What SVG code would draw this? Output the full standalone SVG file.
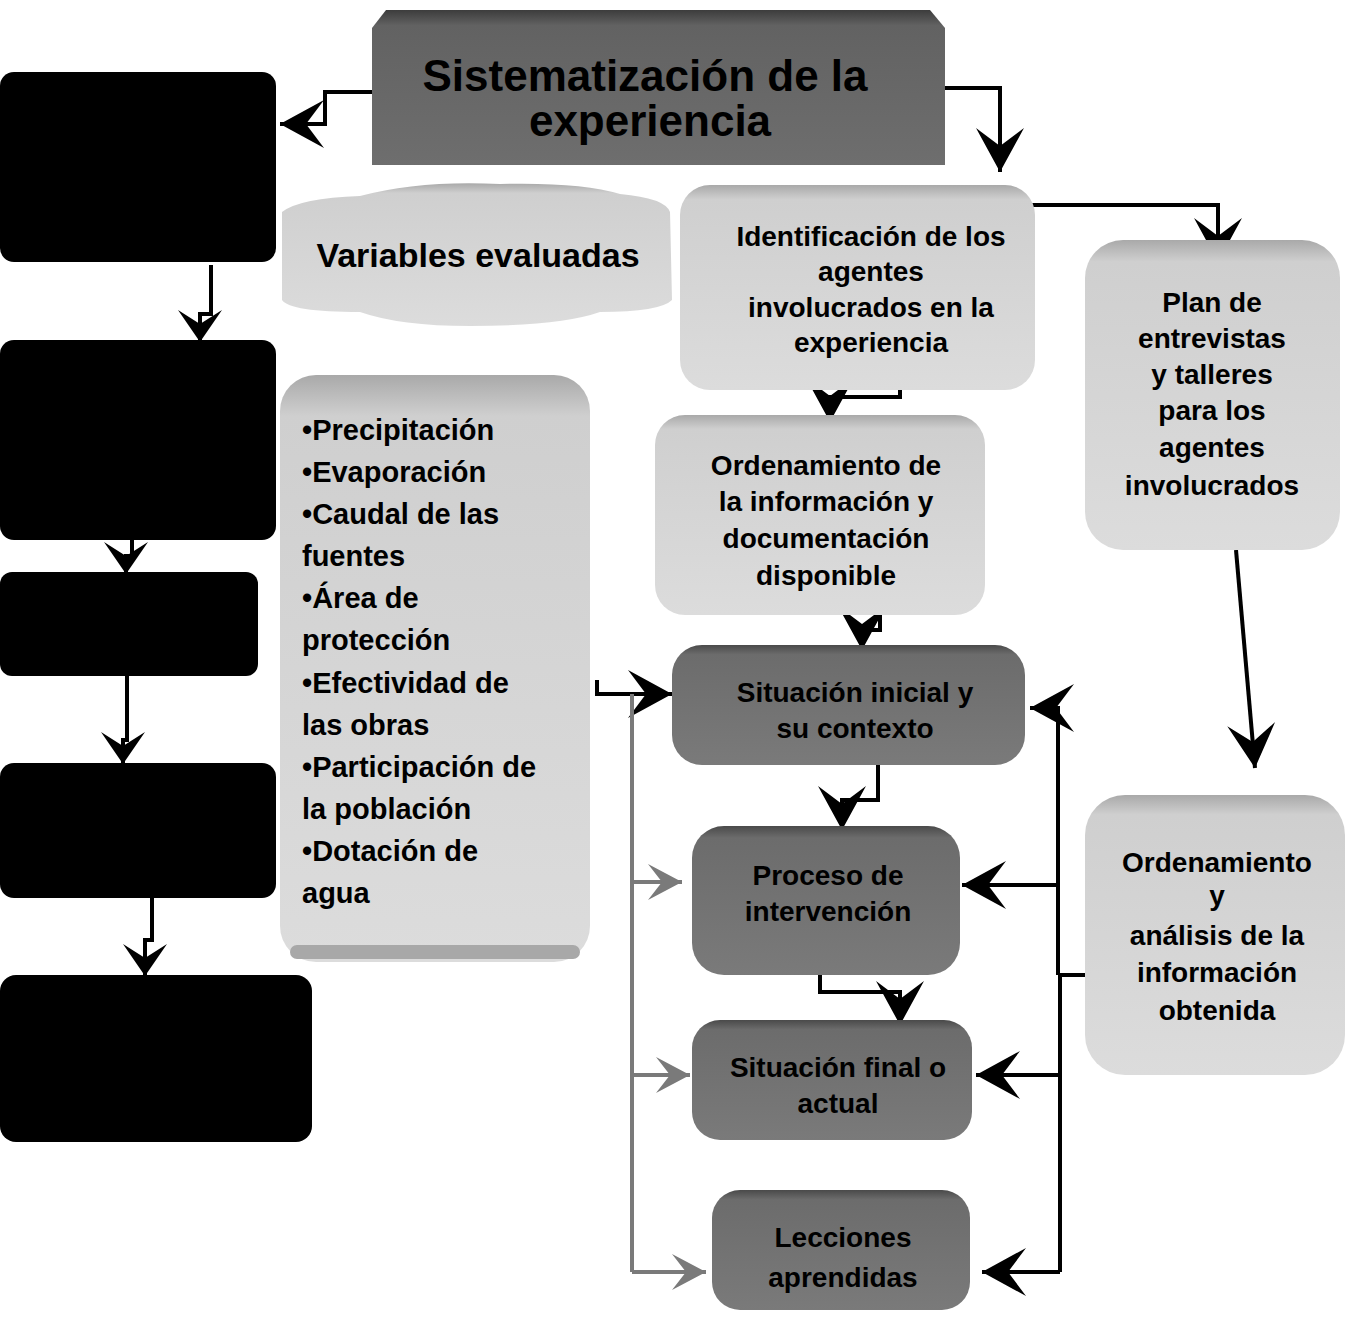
<svg xmlns="http://www.w3.org/2000/svg" width="1353" height="1317" viewBox="0 0 1353 1317">
<style>
  .t{font-family:"Liberation Sans",Arial,sans-serif;font-weight:bold;fill:#000;text-anchor:middle}
  .tl{font-family:"Liberation Sans",Arial,sans-serif;font-weight:bold;fill:#000;text-anchor:start;font-size:29px}
  .light{fill:url(#gLight)}
  .mid{fill:url(#gMid)}
  .blk{fill:#000}
  .c{fill:none;stroke:#000;stroke-width:4}
  .cg{fill:none;stroke:#7a7a7a;stroke-width:4}
</style>
<defs>
  <linearGradient id="gLight" x1="0" y1="0" x2="0" y2="1">
    <stop offset="0" stop-color="#a9a9a9"/>
    <stop offset="0.07" stop-color="#cfcfcf"/>
    <stop offset="1" stop-color="#dcdcdc"/>
  </linearGradient>
  <linearGradient id="gMid" x1="0" y1="0" x2="0" y2="1">
    <stop offset="0" stop-color="#4a4a4a"/>
    <stop offset="0.08" stop-color="#6c6c6c"/>
    <stop offset="1" stop-color="#7a7a7a"/>
  </linearGradient>
  <linearGradient id="gTitle" x1="0" y1="0" x2="0" y2="1">
    <stop offset="0" stop-color="#3c3c3c"/>
    <stop offset="0.1" stop-color="#626262"/>
    <stop offset="1" stop-color="#6e6e6e"/>
  </linearGradient>
  <marker id="ah" viewBox="-46 -26 48 52" refX="0" refY="0" markerWidth="48" markerHeight="52" markerUnits="userSpaceOnUse" orient="auto">
    <path d="M0,0 L-44,-24 L-26,0 L-44,24 Z" fill="#000"/>
  </marker>
  <marker id="ahs" viewBox="-36 -24 38 48" refX="0" refY="0" markerWidth="38" markerHeight="48" markerUnits="userSpaceOnUse" orient="auto">
    <path d="M0,0 L-32,-22 L-18,0 L-32,22 Z" fill="#000"/>
  </marker>
  <marker id="ahg" viewBox="-36 -22 38 44" refX="0" refY="0" markerWidth="38" markerHeight="44" markerUnits="userSpaceOnUse" orient="auto">
    <path d="M0,0 L-34,-18 L-20,0 L-34,18 Z" fill="#7a7a7a"/>
  </marker>
</defs>

<g id="connectors">
  <path class="c" d="M372,92 H325 V124 H280" marker-end="url(#ah)"/>
  <path class="c" d="M211,265 V314 H200 V342" marker-end="url(#ahs)"/>
  <path class="c" d="M132,540 V556 H126 V574" marker-end="url(#ahs)"/>
  <path class="c" d="M127,676 V740 H123 V764" marker-end="url(#ahs)"/>
  <path class="c" d="M152,898 V940 H145 V976" marker-end="url(#ahs)"/>
  <path class="c" d="M945,88 H1000 V172" marker-end="url(#ah)"/>
  <path class="c" d="M1028,205 H1218 V262" marker-end="url(#ah)"/>
  <path class="c" d="M1236,550 L1255,768" marker-end="url(#ah)"/>
  <path class="c" d="M900,370 V397 H830 V422" marker-end="url(#ah)"/>
  <path class="c" d="M880,600 V630 H862 V650" marker-end="url(#ah)"/>
  <path class="c" d="M878,765 V800 H842 V830" marker-end="url(#ah)"/>
  <path class="c" d="M820,955 V992 H900 V1025" marker-end="url(#ah)"/>
  <path class="c" d="M597,680 V694 H672" marker-end="url(#ah)"/>
  <path class="cg" d="M632,694 V1272"/>
  <path class="cg" d="M632,882 H682" marker-end="url(#ahg)"/>
  <path class="cg" d="M632,1075 H690" marker-end="url(#ahg)"/>
  <path class="cg" d="M632,1272 H706" marker-end="url(#ahg)"/>
  <path class="c" d="M1105,975 H1058"/>
  <path class="c" d="M1058,706 V975"/>
  <path class="c" d="M1060,975 V1272"/>
  <path class="c" d="M1058,708 H1030" marker-end="url(#ah)"/>
  <path class="c" d="M1058,885 H962" marker-end="url(#ah)"/>
  <path class="c" d="M1060,1075 H976" marker-end="url(#ah)"/>
  <path class="c" d="M1060,1272 H982" marker-end="url(#ah)"/>
</g>

<g id="title">
  <path d="M386,10 H930 L945,28 V165 H372 V28 Z" fill="url(#gTitle)"/>
  <text class="t" x="645" y="91" font-size="44">Sistematización de la</text>
  <text class="t" x="650" y="136" font-size="44">experiencia</text>
</g>

<g id="box1"><rect class="blk" x="0" y="72" width="276" height="190" rx="14"/></g>
<g id="box2"><rect class="blk" x="0" y="340" width="276" height="200" rx="14"/></g>
<g id="box3"><rect class="blk" x="0" y="572" width="258" height="104" rx="12"/></g>
<g id="box4"><rect class="blk" x="0" y="763" width="276" height="135" rx="14"/></g>
<g id="box5"><rect class="blk" x="0" y="975" width="312" height="167" rx="16"/></g>

<g id="variables">
  <path class="light" d="M282,212 Q300,198 360,196 Q420,180 500,184 Q580,182 620,194 Q665,198 670,212 L672,300 Q660,312 600,312 Q560,326 470,326 Q400,326 360,312 Q290,312 282,300 Z"/>
  <text class="t" x="478" y="267" font-size="34">Variables evaluadas</text>
</g>

<g id="lista">
  <rect class="light" x="280" y="375" width="310" height="587" rx="36"/>
  <rect x="290" y="945" width="290" height="14" rx="7" fill="#a8a8a8"/>
  <text class="tl" x="302" y="440">•Precipitación</text>
  <text class="tl" x="302" y="482">•Evaporación</text>
  <text class="tl" x="302" y="524">•Caudal de las</text>
  <text class="tl" x="302" y="566">fuentes</text>
  <text class="tl" x="302" y="608">•Área de</text>
  <text class="tl" x="302" y="650">protección</text>
  <text class="tl" x="302" y="693">•Efectividad de</text>
  <text class="tl" x="302" y="735">las obras</text>
  <text class="tl" x="302" y="777">•Participación de</text>
  <text class="tl" x="302" y="819">la  población</text>
  <text class="tl" x="302" y="861">•Dotación de</text>
  <text class="tl" x="302" y="903">agua</text>
</g>

<g id="identificacion">
  <rect class="light" x="680" y="185" width="355" height="205" rx="30"/>
  <text class="t" x="871" y="246" font-size="28">Identificación de los</text>
  <text class="t" x="871" y="281" font-size="28">agentes</text>
  <text class="t" x="871" y="317" font-size="28">involucrados en la</text>
  <text class="t" x="871" y="352" font-size="28">experiencia</text>
</g>

<g id="plan">
  <rect class="light" x="1085" y="240" width="255" height="310" rx="38"/>
  <text class="t" x="1212" y="312" font-size="28">Plan de</text>
  <text class="t" x="1212" y="348" font-size="28">entrevistas</text>
  <text class="t" x="1212" y="384" font-size="28">y talleres</text>
  <text class="t" x="1212" y="420" font-size="28">para los</text>
  <text class="t" x="1212" y="457" font-size="28">agentes</text>
  <text class="t" x="1212" y="495" font-size="28">involucrados</text>
</g>

<g id="ordenamiento-doc">
  <rect class="light" x="655" y="415" width="330" height="200" rx="30"/>
  <text class="t" x="826" y="475" font-size="28">Ordenamiento de</text>
  <text class="t" x="826" y="511" font-size="28">la información y</text>
  <text class="t" x="826" y="548" font-size="28">documentación</text>
  <text class="t" x="826" y="585" font-size="28">disponible</text>
</g>

<g id="ordenamiento-analisis">
  <rect class="light" x="1085" y="795" width="260" height="280" rx="40"/>
  <text class="t" x="1217" y="872" font-size="28">Ordenamiento</text>
  <text class="t" x="1217" y="905" font-size="28">y</text>
  <text class="t" x="1217" y="945" font-size="28">análisis de la</text>
  <text class="t" x="1217" y="982" font-size="28">información</text>
  <text class="t" x="1217" y="1020" font-size="28">obtenida</text>
</g>

<g id="situacion-inicial">
  <rect class="mid" x="672" y="645" width="353" height="120" rx="30"/>
  <text class="t" x="855" y="702" font-size="28">Situación inicial y</text>
  <text class="t" x="855" y="738" font-size="28">su contexto</text>
</g>

<g id="proceso">
  <rect class="mid" x="692" y="826" width="268" height="149" rx="32"/>
  <text class="t" x="828" y="885" font-size="28">Proceso de</text>
  <text class="t" x="828" y="921" font-size="28">intervención</text>
</g>

<g id="situacion-final">
  <rect class="mid" x="692" y="1020" width="280" height="120" rx="28"/>
  <text class="t" x="838" y="1077" font-size="28">Situación final o</text>
  <text class="t" x="838" y="1113" font-size="28">actual</text>
</g>

<g id="lecciones">
  <rect class="mid" x="712" y="1190" width="258" height="120" rx="28"/>
  <text class="t" x="843" y="1247" font-size="28">Lecciones</text>
  <text class="t" x="843" y="1287" font-size="28">aprendidas</text>
</g>
</svg>
